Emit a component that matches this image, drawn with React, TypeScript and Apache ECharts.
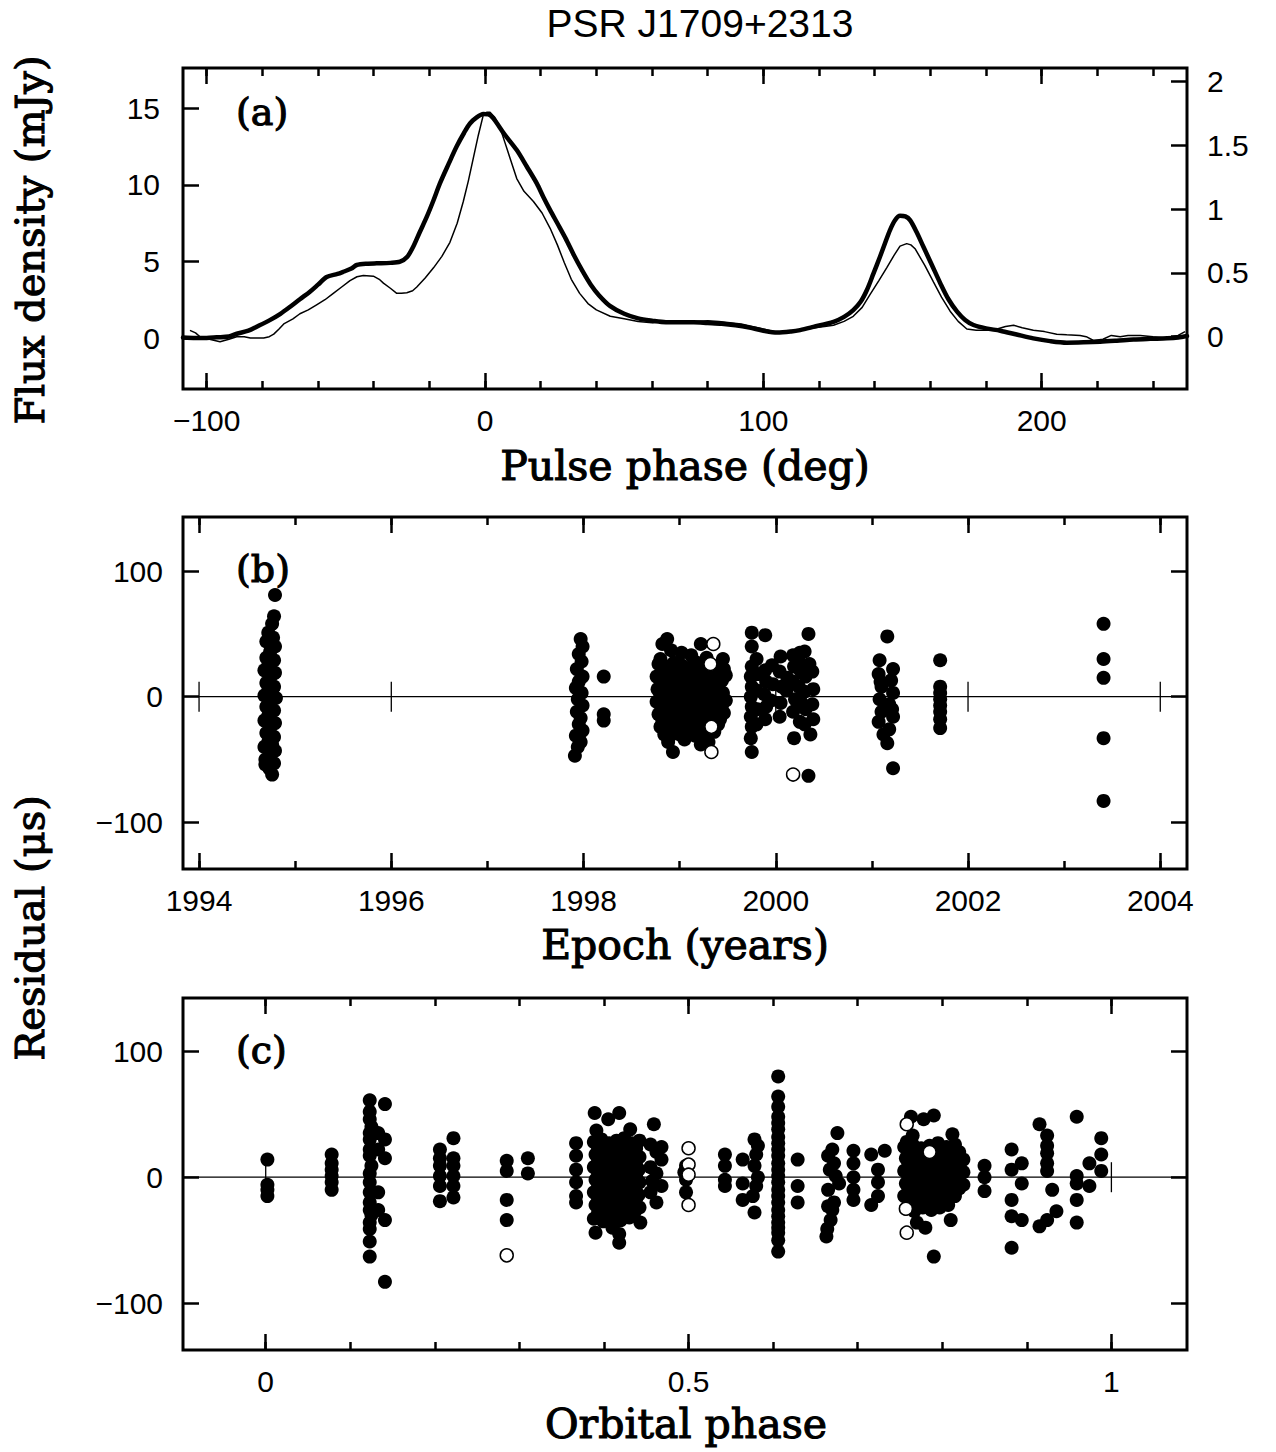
import React, { useEffect, useRef } from 'react';
import * as echarts from 'echarts';

// ---------------- data ----------------
const TITLE = 'PSR J1709+2313';

// Panel (a): pulse profiles [phase deg, flux]
const profileThick: [number, number][] = [
  [-108.5, 0.05], [-104, 0.02], [-100, 0.03], [-96.4, 0.07], [-92, 0.12], [-89.2, 0.3], [-85, 0.5], [-82, 0.76],
  [-77.3, 1.19], [-73.5, 1.6], [-70, 2.06], [-66.5, 2.55], [-62.9, 3.04], [-60, 3.5], [-56.9, 4.0], [-53, 4.2],
  [-50.9, 4.34], [-48, 4.55], [-46.1, 4.78], [-42, 4.87], [-38.9, 4.89], [-34, 4.92], [-30.5, 5.0], [-28, 5.3],
  [-25.8, 5.97], [-23.5, 6.9], [-20.9, 7.93], [-18.5, 9.0], [-16.2, 10.1], [-13, 11.4], [-10.2, 12.5], [-7.5, 13.4],
  [-5.4, 14.0], [-3, 14.4], [-0.6, 14.62], [1.2, 14.6], [3.0, 14.34], [7, 13.3], [11.4, 12.27], [15, 11.2],
  [18.6, 10.1], [21, 9.2], [23.4, 8.36], [26, 7.5], [29, 6.5], [32, 5.4], [35, 4.4], [38, 3.5], [41, 2.8],
  [45, 2.1], [50, 1.6], [55, 1.3], [60, 1.15], [65, 1.05], [70, 1.05], [75, 1.05], [80, 1.0], [85, 0.95],
  [90, 0.85], [95, 0.7], [100, 0.5], [105, 0.38], [110, 0.45], [113.2, 0.54], [118, 0.75], [125.2, 1.08],
  [129, 1.4], [132.3, 1.84], [135, 2.4], [137.2, 3.15], [139.5, 4.2], [141.9, 5.32], [143.7, 6.2], [145.5, 7.06],
  [147.3, 7.7], [149.1, 7.99], [151, 7.95], [152.7, 7.71], [155, 6.95], [157.5, 5.97], [160.5, 4.8], [163.6, 3.58],
  [166.5, 2.55], [169.6, 1.74], [172.5, 1.2], [175.5, 0.87], [180, 0.65], [185.1, 0.5], [191, 0.25], [197, 0.0],
  [203, -0.18], [209, -0.28], [215, -0.26], [221, -0.22], [227, -0.15], [233, -0.07], [239, -0.03], [245, 0.0],
  [249, 0.05], [252.2, 0.15],
];

// thin profile, right-hand axis units
const profileThin: [number, number][] = [
  [-106, 0.05], [-104, 0.03], [-102.4, 0.0], [-99, -0.02], [-95.2, -0.04], [-92, -0.02], [-89.2, 0.0], [-86.5, 0.0],
  [-84.3, -0.01], [-79.5, -0.01], [-77.5, 0.0], [-75.9, 0.02], [-74, 0.06], [-72.3, 0.1], [-69, 0.14], [-66.5, 0.18],
  [-63.5, 0.21], [-60.5, 0.25], [-57.5, 0.29], [-54.5, 0.34], [-51.5, 0.39], [-48.5, 0.44], [-46, 0.47], [-43.7, 0.48],
  [-40.1, 0.475], [-38, 0.45], [-36.5, 0.42], [-34, 0.38], [-31.7, 0.34], [-30, 0.34], [-28.1, 0.345], [-26, 0.36],
  [-24.5, 0.39], [-21.5, 0.46], [-18.5, 0.54], [-15.5, 0.63], [-12.6, 0.74], [-10, 0.89], [-7.8, 1.06], [-6, 1.22],
  [-4.2, 1.4], [-2.4, 1.58], [-0.6, 1.74], [0.6, 1.76], [1.8, 1.76], [3.5, 1.72], [5.4, 1.64], [7.2, 1.52],
  [9.0, 1.4], [11.4, 1.24], [14, 1.14], [17.4, 1.06], [20.5, 0.97], [23.4, 0.85], [26, 0.72], [28.5, 0.58],
  [31, 0.45], [34, 0.34], [37, 0.26], [40, 0.21], [45, 0.16], [50, 0.14], [55, 0.12], [60, 0.11], [65, 0.12],
  [70, 0.125], [75, 0.12], [80, 0.125], [84, 0.12], [88, 0.11], [92, 0.1], [96, 0.08], [100, 0.06], [104, 0.04],
  [107, 0.03], [110, 0.04], [113.2, 0.05], [118, 0.07], [122, 0.08], [125.2, 0.09], [129, 0.12], [132.3, 0.16],
  [135.5, 0.23], [138.3, 0.33], [141.5, 0.44], [144.3, 0.54], [147, 0.64], [149.1, 0.71], [151.5, 0.73], [153, 0.72],
  [154.5, 0.69], [158, 0.56], [161.1, 0.43], [164, 0.31], [167.1, 0.2], [170, 0.12], [173.1, 0.06], [176.5, 0.05],
  [180.3, 0.05], [184, 0.06], [187, 0.08], [189.9, 0.09], [193, 0.07], [197, 0.05], [201, 0.04], [205.4, 0.02],
  [209, 0.015], [213.8, 0.01], [216, 0.0], [218.6, -0.03], [222, -0.02], [225, 0.01], [228.2, 0.0], [231, 0.01],
  [235.4, 0.01], [240, 0.0], [245, -0.01], [249, 0.01], [251.5, 0.04],
];

// Panel (b): timing residuals vs epoch [year, residual us]
const epochFilled: [number, number][] = [
  [1994.79, 81], [1994.78, 64], [1994.76, 58], [1994.72, 51], [1994.77, 47], [1994.7, 44], [1994.79, 40], [1994.74, 36],
  [1994.7, 31], [1994.78, 29], [1994.72, 25], [1994.68, 21], [1994.79, 19], [1994.74, 15], [1994.7, 11], [1994.78, 8],
  [1994.72, 5], [1994.68, 1], [1994.8, -1], [1994.74, -4], [1994.7, -8], [1994.78, -11], [1994.72, -15], [1994.68, -19],
  [1994.79, -21], [1994.74, -25], [1994.7, -29], [1994.78, -32], [1994.72, -36], [1994.68, -40], [1994.79, -43],
  [1994.74, -47], [1994.69, -50], [1994.78, -53], [1994.73, -57], [1994.76, -62], [1994.76, 4], [1994.75, 27],
  [1994.76, -38], [1994.69, -54],
  [1997.97, 46], [1997.99, 40], [1997.95, 34], [1997.98, 28], [1997.93, 22], [1997.99, 16], [1997.95, 12], [1997.92, 7],
  [1997.98, 3], [1997.94, -2], [1997.99, -7], [1997.93, -12], [1997.97, -17], [1997.95, -22], [1997.99, -27],
  [1997.92, -31], [1997.97, -36], [1997.94, -40], [1997.91, -47], [1998.21, 16], [1998.21, -14], [1998.21, -19],
  [1998.82, 42], [1998.87, 46], [1998.91, 37], [1999.22, 42], [1999.02, 35], [1999.12, 33], [1999.28, 31], [1998.8, 30],
  [1999.45, 30],
  [1998.78, 26], [1998.86, 24], [1998.94, 27], [1999.02, 25], [1999.1, 23], [1999.18, 27], [1999.26, 25], [1999.38, 24], [1999.46, 22],
  [1998.76, 16], [1998.84, 14], [1998.92, 17], [1999.0, 15], [1999.08, 13], [1999.16, 16], [1999.24, 14], [1999.36, 15], [1999.44, 13], [1999.48, 17],
  [1998.77, 6], [1998.85, 4], [1998.93, 7], [1999.01, 5], [1999.09, 3], [1999.17, 6], [1999.25, 4], [1999.37, 5], [1999.45, 3],
  [1998.76, -4], [1998.84, -6], [1998.92, -3], [1999.0, -5], [1999.08, -7], [1999.16, -4], [1999.24, -6], [1999.36, -5], [1999.44, -7], [1999.48, -3],
  [1998.78, -14], [1998.86, -16], [1998.94, -13], [1999.02, -15], [1999.1, -17], [1999.18, -14], [1999.26, -16], [1999.38, -15], [1999.46, -13],
  [1998.8, -24], [1998.88, -26], [1998.96, -23], [1999.04, -25], [1999.12, -27], [1999.2, -24], [1999.28, -26], [1999.4, -22],
  [1998.82, 21], [1998.9, 21], [1998.98, 20], [1999.06, 19], [1999.14, 21], [1999.22, 20], [1999.3, 20], [1999.41, 19],
  [1998.81, 11], [1998.89, 10], [1998.97, 11], [1999.05, 9], [1999.13, 10], [1999.21, 11], [1999.29, 9], [1999.41, 10],
  [1998.8, 1], [1998.88, 0], [1998.96, 2], [1999.04, 0], [1999.12, -1], [1999.2, 1], [1999.28, 0], [1999.41, -1],
  [1998.81, -9], [1998.89, -10], [1998.97, -9], [1999.05, -11], [1999.13, -10], [1999.21, -9], [1999.29, -11], [1999.41, -10],
  [1998.82, -19], [1998.9, -20], [1998.98, -19], [1999.06, -21], [1999.14, -20], [1999.22, -19], [1999.3, -21], [1999.42, -18],
  [1998.84, -30], [1999.0, -30], [1999.16, -31], [1999.36, -28],
  [1998.88, -36], [1998.93, -44], [1999.05, -34], [1999.22, -38], [1999.27, -32], [1998.9, -31], [1999.3, -36],
  [1999.75, 51], [1999.75, 40], [1999.75, 24], [1999.74, 16], [1999.75, 8], [1999.74, 0], [1999.75, -8], [1999.74, -16],
  [1999.75, -24], [1999.74, -33], [1999.75, -44],
  [1999.8, 30], [1999.81, 18], [1999.8, 5], [1999.81, -10], [1999.8, -22],
  [1999.89, 49], [1999.89, 21], [1999.9, 12], [1999.88, 2], [1999.9, -8], [1999.89, -18],
  [1999.96, 25], [1999.97, 10], [1999.95, -3],
  [2000.05, 32], [2000.04, 20], [2000.06, 8], [2000.05, -5], [2000.04, -16],
  [2000.12, 15], [2000.11, 5],
  [2000.18, 33], [2000.19, 24], [2000.18, 12], [2000.2, -2], [2000.18, -12], [2000.19, -33],
  [2000.25, 35], [2000.26, 20], [2000.24, 8], [2000.26, -4], [2000.25, -20], [2000.24, 28],
  [2000.3, 36], [2000.31, 16], [2000.3, 4], [2000.31, -10], [2000.3, -22],
  [2000.34, 50], [2000.35, 26], [2000.36, -30], [2000.34, -63],
  [2000.38, 20], [2000.39, 6], [2000.38, -6], [2000.39, -18],
  [2001.16, 48], [2001.08, 29], [2001.22, 22], [2001.07, 18], [2001.2, 13], [2001.1, 8], [2001.22, 3], [2001.08, -2],
  [2001.18, -6], [2001.1, -12], [2001.22, -16], [2001.07, -20], [2001.18, -26], [2001.12, -30], [2001.16, -37],
  [2001.22, -57], [2001.09, 12], [2001.21, -10],
  [2001.71, 29], [2001.71, 8], [2001.71, 3], [2001.71, -2], [2001.71, -7], [2001.71, -12], [2001.71, -18], [2001.71, -25],
  [2003.41, 58], [2003.41, 30], [2003.41, 15], [2003.41, -33], [2003.41, -83],
];
const epochOpen: [number, number][] = [
  [1999.35, 42], [1999.33, -44], [2000.18, -62], [1999.32, 26], [1999.33, -24],
];

// Panel (c): residuals vs orbital phase
const orbitFilled: [number, number][] = [
  [0.002, 14], [0.002, -6], [0.002, -10], [0.002, -15],
  [0.078, 18], [0.078, 11], [0.078, 6], [0.078, 1], [0.078, -4], [0.078, -10],
  [0.123, 61], [0.123, 52], [0.123, 46], [0.123, 35], [0.123, 30], [0.123, 22], [0.123, 17], [0.123, 3], [0.123, -4],
  [0.123, -12], [0.123, -20], [0.123, -26], [0.123, -36], [0.123, -41], [0.123, -51], [0.123, -63], [0.125, 40],
  [0.125, 9], [0.125, -30],
  [0.133, 35], [0.133, 22], [0.133, -12], [0.133, -26],
  [0.141, 58], [0.141, 30], [0.141, 15], [0.141, -34], [0.141, -83],
  [0.206, 22], [0.206, 15], [0.206, 9], [0.206, 1], [0.206, -7], [0.206, -19],
  [0.222, 31], [0.222, 15], [0.222, 9], [0.222, 1], [0.222, -7], [0.222, -16],
  [0.285, 13], [0.285, 5], [0.285, -18], [0.285, -34],
  [0.31, 15], [0.31, 3],
  [0.367, 27], [0.367, 17], [0.367, 6], [0.367, -4], [0.367, -15], [0.367, -20],
  [0.389, 51], [0.418, 51], [0.405, 46], [0.459, 42], [0.391, 37], [0.431, 38],
  [0.388, 28], [0.397, 30], [0.406, 27], [0.415, 29], [0.424, 31], [0.433, 27], [0.442, 29],
  [0.39, 18], [0.399, 16], [0.408, 19], [0.417, 17], [0.426, 15], [0.435, 18], [0.442, 16],
  [0.388, 8], [0.397, 6], [0.406, 9], [0.415, 7], [0.424, 5], [0.433, 8], [0.441, 6],
  [0.39, -2], [0.399, -4], [0.408, -1], [0.417, -3], [0.426, -5], [0.435, -2], [0.442, -4],
  [0.388, -12], [0.397, -14], [0.406, -11], [0.415, -13], [0.424, -15], [0.433, -12], [0.441, -14],
  [0.39, -22], [0.399, -24], [0.408, -21], [0.417, -23], [0.426, -25], [0.435, -22], [0.442, -24],
  [0.393, 23], [0.402, 22], [0.411, 24], [0.42, 23], [0.429, 21], [0.438, 23],
  [0.393, 13], [0.402, 12], [0.411, 14], [0.42, 12], [0.429, 10], [0.438, 12],
  [0.393, 3], [0.402, 1], [0.411, 3], [0.42, 2], [0.429, 0], [0.438, 2],
  [0.393, -7], [0.402, -9], [0.411, -6], [0.42, -8], [0.429, -10], [0.438, -7],
  [0.393, -17], [0.402, -19], [0.411, -16], [0.42, -18], [0.429, -20], [0.438, -17],
  [0.393, -28], [0.404, -28], [0.415, -27], [0.426, -29], [0.436, -28],
  [0.388, -33], [0.399, -35], [0.41, -31], [0.42, -34], [0.43, -32],
  [0.39, -44], [0.418, -45], [0.418, -52], [0.443, -36], [0.41, -40],
  [0.455, 26], [0.462, 20], [0.468, 14], [0.455, 8], [0.462, 3], [0.468, -7], [0.455, -12], [0.462, -20], [0.468, 24], [0.457, -3],
  [0.497, 9], [0.497, -2], [0.497, -12], [0.495, 4],
  [0.543, 18], [0.543, 9], [0.543, -2], [0.543, -7],
  [0.564, 14], [0.564, -5], [0.564, -18],
  [0.578, 30], [0.582, 25], [0.58, 18], [0.578, 9], [0.582, 0], [0.58, -7], [0.576, -15], [0.578, -28],
  [0.606, 80], [0.606, 64], [0.606, 56], [0.606, 48], [0.606, 43], [0.606, 38], [0.606, 32], [0.606, 27], [0.606, 22],
  [0.606, 17], [0.606, 11], [0.606, 6], [0.606, 1], [0.606, -4], [0.606, -10], [0.606, -15], [0.606, -20], [0.606, -26],
  [0.606, -31], [0.606, -36], [0.606, -40], [0.606, -44], [0.606, -50], [0.606, -59],
  [0.629, 14], [0.629, -7], [0.629, -20],
  [0.676, 35], [0.67, 22], [0.665, 17], [0.672, 11], [0.667, 6], [0.674, 1], [0.665, -10], [0.672, -20], [0.665, -23],
  [0.67, -26], [0.668, -34], [0.664, -41], [0.663, -47], [0.678, -5],
  [0.695, 21], [0.695, 11], [0.695, 0], [0.695, -10], [0.695, -18],
  [0.732, 21], [0.716, 18], [0.724, 6], [0.724, -4], [0.724, -15], [0.716, -22],
  [0.763, 48], [0.79, 49], [0.778, 46], [0.765, 33], [0.812, 34], [0.815, 22], [0.758, 28],
  [0.755, 24], [0.765, 26], [0.775, 23], [0.785, 25], [0.795, 27], [0.805, 24], [0.815, 26],
  [0.757, 15], [0.767, 13], [0.777, 16], [0.787, 14], [0.797, 16], [0.807, 13], [0.817, 15], [0.825, 14],
  [0.755, 5], [0.765, 3], [0.775, 6], [0.785, 4], [0.795, 6], [0.805, 3], [0.815, 5], [0.825, 4],
  [0.757, -5], [0.767, -7], [0.777, -4], [0.787, -6], [0.797, -4], [0.807, -7], [0.817, -5], [0.825, -6],
  [0.755, -15], [0.765, -17], [0.775, -14], [0.785, -16], [0.795, -14], [0.805, -17], [0.815, -15],
  [0.757, -25], [0.767, -27], [0.777, -24], [0.787, -26], [0.797, -24], [0.807, -22],
  [0.76, 20], [0.77, 19], [0.78, 21], [0.79, 20], [0.8, 21], [0.81, 19], [0.82, 20],
  [0.76, 10], [0.77, 9], [0.78, 11], [0.79, 10], [0.8, 9], [0.81, 10], [0.82, 9],
  [0.76, 0], [0.77, -1], [0.78, 1], [0.79, 0], [0.8, -1], [0.81, 0], [0.82, 1],
  [0.76, -10], [0.77, -11], [0.78, -9], [0.79, -10], [0.8, -11], [0.81, -10], [0.82, -9],
  [0.762, -20], [0.772, -21], [0.782, -20], [0.792, -19], [0.802, -20],
  [0.79, -63], [0.81, -34], [0.77, -36], [0.78, -40],
  [0.85, 9], [0.85, 0], [0.85, -11],
  [0.882, 22], [0.882, 6], [0.882, -18], [0.882, -31], [0.882, -56],
  [0.894, 11], [0.894, -5], [0.894, -34],
  [0.915, 42], [0.924, 33], [0.924, 25], [0.924, 19], [0.924, 11], [0.924, 5], [0.93, -10], [0.935, -27], [0.924, -34], [0.915, -39],
  [0.959, 48], [0.959, 1], [0.959, -5], [0.959, -18], [0.959, -36],
  [0.974, 11], [0.974, -7],
  [0.988, 31], [0.988, 18], [0.988, 5],
];
const orbitOpen: [number, number][] = [
  [0.285, -62], [0.5, 23], [0.5, 10], [0.5, 2], [0.5, -22], [0.758, 42], [0.758, -44], [0.757, -25], [0.785, 20],
];

// tick values
const fluxTicks = [0, 5, 10, 15];
const fluxRightTicks = [0, 0.5, 1, 1.5, 2];
const phaseMajor = [-100, 0, 100, 200];
const phaseMinor = [-100, -80, -60, -40, -20, 0, 20, 40, 60, 80, 100, 120, 140, 160, 180, 200, 220, 240];
const yearMajor = [1994, 1996, 1998, 2000, 2002, 2004];
const yearMinor = [1994, 1995, 1996, 1997, 1998, 1999, 2000, 2001, 2002, 2003, 2004];
const orbMajor = [0, 0.5, 1];
const orbMinor = [0, 0.1, 0.2, 0.3, 0.4, 0.5, 0.6, 0.7, 0.8, 0.9, 1];
const residTicks = [-100, 0, 100];

// ---------------- helpers ----------------
const SANS = 'Liberation Sans';
const SERIF = 'DejaVu Serif';
const fmt = (v: number) => (v < 0 ? '\u2212' + Math.abs(v) : String(v));
const TICK_W = 2.5;
const LABEL_SIZE = 30;

function xAx(grid: number, pos: string, min: number, max: number, ticks: number[], len: number, labels: boolean) {
  return {
    type: 'value', gridIndex: grid, position: pos, min, max,
    axisLine: { show: false, onZero: false }, splitLine: { show: false },
    axisTick: { show: true, inside: true, length: len, customValues: ticks, lineStyle: { color: '#000', width: TICK_W } },
    axisLabel: labels
      ? { show: true, customValues: ticks, formatter: fmt, margin: 16, color: '#000', fontFamily: SANS, fontSize: LABEL_SIZE }
      : { show: false },
  };
}
function yAx(grid: number, pos: string, min: number, max: number, ticks: number[], len: number, labels: boolean, margin = 22) {
  return {
    type: 'value', gridIndex: grid, position: pos, min, max,
    axisLine: { show: false, onZero: false }, splitLine: { show: false },
    axisTick: { show: true, inside: true, length: len, customValues: ticks, lineStyle: { color: '#000', width: TICK_W } },
    axisLabel: labels
      ? { show: true, customValues: ticks, formatter: fmt, margin, color: '#000', fontFamily: SANS, fontSize: LABEL_SIZE }
      : { show: false },
  };
}
function zeroLine(xIdx: number, yIdx: number, ticks: number[]) {
  return {
    type: 'custom', xAxisIndex: xIdx, yAxisIndex: yIdx, silent: true, z: 1,
    data: ticks.map((t) => [t, 0]),
    renderItem: (params: any, api: any) => {
      const p = api.coord([api.value(0), api.value(1)]);
      const cs = params.coordSys;
      const children: any[] = [
        { type: 'line', shape: { x1: p[0], y1: p[1] - 15, x2: p[0], y2: p[1] + 15 }, style: { stroke: '#000', lineWidth: 1.3 } },
      ];
      if (params.dataIndex === 0) {
        children.push({ type: 'line', shape: { x1: cs.x, y1: p[1], x2: cs.x + cs.width, y2: p[1] }, style: { stroke: '#000', lineWidth: 1.3 } });
      }
      return { type: 'group', children };
    },
  };
}
function filled(xIdx: number, yIdx: number, data: [number, number][]) {
  return {
    type: 'scatter', xAxisIndex: xIdx, yAxisIndex: yIdx, data, symbol: 'circle', symbolSize: 14, z: 3,
    itemStyle: { color: '#000', opacity: 1 }, silent: true,
  };
}
function open(xIdx: number, yIdx: number, data: [number, number][]) {
  return {
    type: 'scatter', xAxisIndex: xIdx, yAxisIndex: yIdx, data, symbol: 'circle', symbolSize: 13, z: 4,
    itemStyle: { color: '#fff', borderColor: '#000', borderWidth: 1.5, opacity: 1 }, silent: true,
  };
}

const MAJ = 16;
const MIN = 8;

function serifText(text: string, x: number, y: number, size: number, vertical = false, align = 'center') {
  return {
    type: 'text', x, y, rotation: vertical ? Math.PI / 2 : 0,
    style: {
      text, font: `${size}px "${SERIF}"`, fill: '#000', stroke: '#000', lineWidth: 1.1,
      align, verticalAlign: 'middle',
    },
  };
}

export default function App() {
  const ref = useRef<HTMLDivElement>(null);
  useEffect(() => {
    if (!ref.current) return;
    const chart = echarts.init(ref.current, undefined, { renderer: 'svg' });
    const gridStyle = { show: true, borderColor: '#000', borderWidth: 3, backgroundColor: 'transparent' };
    const option: any = {
      animation: false,
      backgroundColor: '#fff',
      grid: [
        { left: 183, top: 68, width: 1004, height: 321, ...gridStyle },
        { left: 183, top: 517, width: 1004, height: 352, ...gridStyle },
        { left: 183, top: 998, width: 1004, height: 352, ...gridStyle },
      ],
      xAxis: [
        xAx(0, 'bottom', -108.5, 252.2, phaseMajor, MAJ, true),
        xAx(0, 'bottom', -108.5, 252.2, phaseMinor, MIN, false),
        xAx(0, 'top', -108.5, 252.2, phaseMajor, MAJ, false),
        xAx(0, 'top', -108.5, 252.2, phaseMinor, MIN, false),
        xAx(1, 'bottom', 1993.833, 2004.278, yearMajor, MAJ, true),
        xAx(1, 'bottom', 1993.833, 2004.278, yearMinor, MIN, false),
        xAx(1, 'top', 1993.833, 2004.278, yearMajor, MAJ, false),
        xAx(1, 'top', 1993.833, 2004.278, yearMinor, MIN, false),
        xAx(2, 'bottom', -0.0978, 1.0894, orbMajor, MAJ, true),
        xAx(2, 'bottom', -0.0978, 1.0894, orbMinor, MIN, false),
        xAx(2, 'top', -0.0978, 1.0894, orbMajor, MAJ, false),
        xAx(2, 'top', -0.0978, 1.0894, orbMinor, MIN, false),
      ],
      yAxis: [
        yAx(0, 'left', -3.3, 17.62, fluxTicks, MAJ, true, 23),
        yAx(0, 'right', -0.41, 2.107, fluxRightTicks, MAJ, true, 20),
        yAx(1, 'left', -137.2, 143.1, residTicks, MAJ, true, 20),
        yAx(1, 'right', -137.2, 143.1, residTicks, MAJ, false),
        yAx(2, 'left', -137.1, 142.2, residTicks, MAJ, true, 20),
        yAx(2, 'right', -137.1, 142.2, residTicks, MAJ, false),
      ],
      series: [
        {
          type: 'line', xAxisIndex: 0, yAxisIndex: 1, data: profileThin, showSymbol: false, symbol: 'none',
          lineStyle: { color: '#000', width: 1.5 }, smooth: false, silent: true, z: 2,
        },
        {
          type: 'line', xAxisIndex: 0, yAxisIndex: 0, data: profileThick, showSymbol: false, symbol: 'none',
          lineStyle: { color: '#000', width: 4.5, join: 'round', cap: 'round' }, smooth: 0.3, silent: true, z: 3,
        },
        zeroLine(4, 2, yearMajor),
        filled(4, 2, epochFilled),
        open(4, 2, epochOpen),
        zeroLine(8, 4, orbMajor),
        filled(8, 4, orbitFilled),
        open(8, 4, orbitOpen),
      ],
      graphic: [
        { type: 'text', x: 700, y: 23, style: { text: TITLE, font: `39px "${SANS}"`, fill: '#000', align: 'center', verticalAlign: 'middle' } },
        serifText('Flux density (mJy)', 30, 240, 40, true),
        serifText('Residual (\u03bcs)', 30, 928, 40, true),
        serifText('Pulse phase (deg)', 685, 466, 41),
        serifText('Epoch (years)', 685, 945, 41),
        serifText('Orbital phase', 686, 1424, 41),
        serifText('(a)', 236, 112, 38, false, 'left'),
        serifText('(b)', 236, 569, 38, false, 'left'),
        serifText('(c)', 236, 1050, 38, false, 'left'),
      ],
    };
    chart.setOption(option);
    return () => chart.dispose();
  }, []);
  return <div ref={ref} style={{ position: 'absolute', left: 0, top: 0, width: 1276, height: 1452 }} />;
}
